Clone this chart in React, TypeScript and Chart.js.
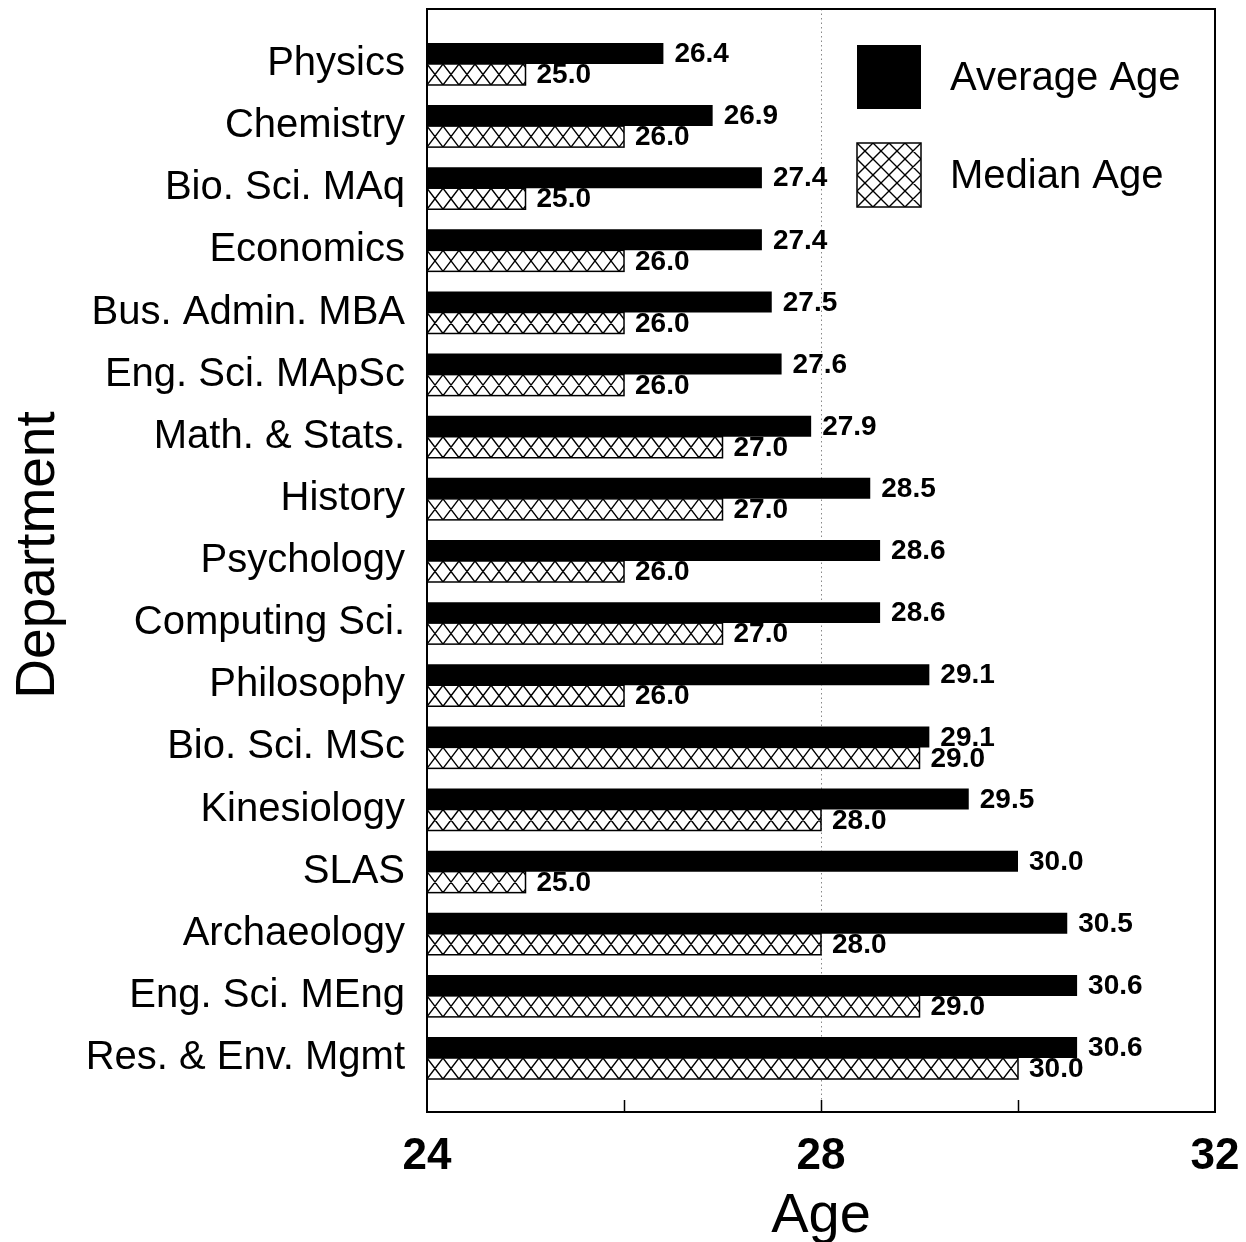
import React, { useEffect, useRef } from "react";
import { Chart, registerables } from "chart.js";

Chart.register(...registerables);

const categories = [
  "Physics",
  "Chemistry",
  "Bio. Sci. MAq",
  "Economics",
  "Bus. Admin. MBA",
  "Eng. Sci. MApSc",
  "Math. & Stats.",
  "History",
  "Psychology",
  "Computing Sci.",
  "Philosophy",
  "Bio. Sci. MSc",
  "Kinesiology",
  "SLAS",
  "Archaeology",
  "Eng. Sci. MEng",
  "Res. & Env. Mgmt",
];
const averageAge = [26.4, 26.9, 27.4, 27.4, 27.5, 27.6, 27.9, 28.5, 28.6, 28.6, 29.1, 29.1, 29.5, 30.0, 30.5, 30.6, 30.6];
const medianAge = [25.0, 26.0, 25.0, 26.0, 26.0, 26.0, 27.0, 27.0, 26.0, 27.0, 26.0, 29.0, 28.0, 25.0, 28.0, 29.0, 30.0];
const seriesNames = ["Average Age", "Median Age"];
const xMin = 24;
const xMax = 32;
const xStep = 4;
const innerTicks = [26, 28, 30];
const dottedLineValue = 28;
const xTitle = "Age";
const yTitle = "Department";

const FONT = "'Liberation Sans', Arial, Helvetica, sans-serif";

function drawCross(ctx: CanvasRenderingContext2D, left: number, top: number, w: number, h: number, cell: number, lw: number) {
  ctx.save();
  ctx.beginPath();
  ctx.rect(left, top, w, h);
  ctx.clip();
  ctx.beginPath();
  for (let x = left; x < left + w; x += cell) {
    ctx.moveTo(x, top);
    ctx.lineTo(x + cell, top + h);
    ctx.moveTo(x + cell, top);
    ctx.lineTo(x, top + h);
  }
  ctx.lineWidth = lw;
  ctx.strokeStyle = "#000";
  ctx.stroke();
  ctx.restore();
}

function zeroPad(s: any) {
  s.paddingTop = 0;
  s.paddingBottom = 0;
  s.paddingLeft = 0;
  s.paddingRight = 0;
}

const decor = {
  id: "decor",
  beforeDatasetsDraw(chart: any) {
    const { ctx, chartArea: a, scales } = chart;
    const px = Math.round(scales.x.getPixelForValue(dottedLineValue)) + 0.5;
    ctx.save();
    ctx.setLineDash([1.5, 3]);
    ctx.strokeStyle = "#888";
    ctx.lineWidth = 1;
    ctx.beginPath();
    ctx.moveTo(px, a.top);
    ctx.lineTo(px, a.bottom);
    ctx.stroke();
    ctx.restore();
  },
  afterDatasetsDraw(chart: any) {
    const { ctx, chartArea: a, scales } = chart;
    // hatch the median bars
    const meta1 = chart.getDatasetMeta(1);
    meta1.data.forEach((el: any) => {
      const p = el.getProps(["x", "y", "base", "height"], true);
      const left = Math.min(p.x, p.base);
      const right = Math.max(p.x, p.base);
      const top = p.y - p.height / 2;
      drawCross(ctx, left, top, right - left, p.height, 16, 1.4);
      ctx.save();
      ctx.lineWidth = 1.5;
      ctx.strokeStyle = "#000";
      ctx.strokeRect(left, top, right - left, p.height);
      ctx.restore();
    });
    // value labels
    ctx.save();
    ctx.fillStyle = "#000";
    ctx.font = `bold 28px ${FONT}`;
    ctx.textAlign = "left";
    ctx.textBaseline = "middle";
    const vals = [averageAge, medianAge];
    [0, 1].forEach((di) => {
      const meta = chart.getDatasetMeta(di);
      meta.data.forEach((el: any, i: number) => {
        const p = el.getProps(["x", "y"], true);
        ctx.fillText(vals[di][i].toFixed(1), p.x + 11, p.y + 1);
      });
    });
    ctx.restore();
    // frame
    ctx.save();
    ctx.strokeStyle = "#000";
    ctx.lineWidth = 2;
    ctx.strokeRect(a.left, a.top, a.right - a.left, a.bottom - a.top);
    ctx.lineWidth = 1.5;
    ctx.beginPath();
    innerTicks.forEach((v) => {
      const px = Math.round(scales.x.getPixelForValue(v)) + 0.5;
      ctx.moveTo(px, a.bottom);
      ctx.lineTo(px, a.bottom - 12);
    });
    ctx.stroke();
    ctx.restore();
    // legend
    ctx.save();
    const lx = 849;
    const ly = [37, 135];
    ctx.fillStyle = "#000";
    ctx.fillRect(lx, ly[0], 64, 64);
    ctx.fillStyle = "#fff";
    ctx.fillRect(lx, ly[1], 64, 64);
    for (let r = 0; r < 4; r++) drawCross(ctx, lx, ly[1] + r * 16, 64, 16, 16, 1.4);
    ctx.lineWidth = 1.5;
    ctx.strokeStyle = "#000";
    ctx.strokeRect(lx, ly[1], 64, 64);
    ctx.fillStyle = "#000";
    ctx.font = `40px ${FONT}`;
    ctx.textAlign = "left";
    ctx.textBaseline = "middle";
    ctx.fillText(seriesNames[0], 942, ly[0] + 34);
    ctx.fillText(seriesNames[1], 942, ly[1] + 34);
    ctx.restore();
    // axis titles
    ctx.save();
    ctx.fillStyle = "#000";
    ctx.font = `56px ${FONT}`;
    ctx.textAlign = "center";
    ctx.textBaseline = "alphabetic";
    ctx.fillText(xTitle, (a.left + a.right) / 2, 1224);
    ctx.translate(46, 547);
    ctx.rotate(-Math.PI / 2);
    ctx.font = `55px ${FONT}`;
    ctx.fillText(yTitle, 0, 0);
    ctx.restore();
  },
};

export default function App() {
  const ref = useRef<HTMLCanvasElement | null>(null);
  useEffect(() => {
    if (!ref.current) return;
    const chart = new Chart(ref.current, {
      type: "bar",
      data: {
        datasets: [
          {
            label: seriesNames[0],
            data: categories.map((_, i) => ({ x: averageAge[i], y: i })),
            backgroundColor: "#000",
            borderWidth: 0,
            base: xMin,
            categoryPercentage: 0.676,
            barPercentage: 1,
          } as any,
          {
            label: seriesNames[1],
            data: categories.map((_, i) => ({ x: medianAge[i], y: i })),
            backgroundColor: "#fff",
            borderWidth: 0,
            base: xMin,
            categoryPercentage: 0.676,
            barPercentage: 1,
          } as any,
        ],
      },
      options: {
        indexAxis: "y",
        responsive: false,
        animation: false,
        layout: { padding: { top: 1, right: 23, left: 0, bottom: 0 } },
        plugins: { legend: { display: false }, tooltip: { enabled: false } },
        scales: {
          x: {
            type: "linear",
            position: "bottom",
            min: xMin,
            max: xMax,
            grid: { display: false, drawTicks: false },
            border: { display: false },
            ticks: { stepSize: xStep, padding: 18, color: "#000", font: { family: FONT, size: 44, weight: "bold" } },
            afterFit: (s: any) => {
              s.height = 130;
              zeroPad(s);
            },
          },
          y: {
            type: "linear",
            position: "left",
            reverse: true,
            offset: false,
            min: -0.885,
            max: 16.869,
            grid: { display: false, drawTicks: false, offset: false },
            border: { display: false },
            afterBuildTicks: (s: any) => {
              s.ticks = categories.map((_, i) => ({ value: i }));
            },
            ticks: {
              autoSkip: false,
              padding: 22,
              color: "#000",
              font: { family: FONT, size: 40 },
              callback: (v: any) => categories[v as number] ?? "",
            },
            afterFit: (s: any) => {
              s.width = 419;
              zeroPad(s);
            },
          },
        },
      } as any,
      plugins: [decor],
    });
    return () => chart.destroy();
  }, []);
  return (
    <div style={{ width: 1230, height: 1234 }}>
      <canvas ref={ref} width={1230} height={1234} style={{ display: "block", width: 1230, height: 1234 }} />
    </div>
  );
}
